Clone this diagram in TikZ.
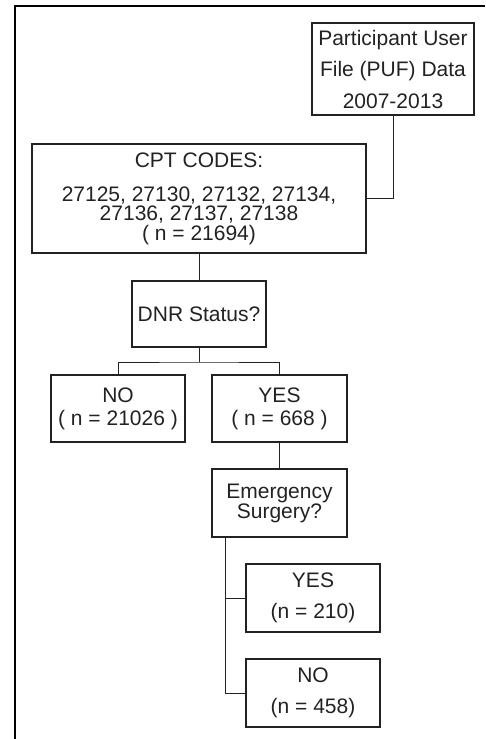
\documentclass[tikz,border=0pt]{standalone}
\usepackage{fontspec}
\setmainfont{Liberation Sans}
\definecolor{ink}{HTML}{222222}

\begin{document}
\begin{tikzpicture}[x=1pt, y=-1pt, line width=1pt, color=ink,
  box/.style={draw, line width=1.4pt, inner sep=0pt, align=center,
    font=\fontsize{21}{#1}\selectfont},
  box/.default=23]
  \useasboundingbox (0,0) rectangle (485,739);
  \draw[black, line width=2pt] (485,6) -| (15,739);

  \node[box=31.5, minimum width=162, minimum height=92] (puf) at (393,69)
    {Participant User\\File (PUF) Data\\2007-2013};
  \node[box=19.5, minimum width=334, minimum height=109] (cpt) at (199,198.5)
    {CPT CODES:\\[14.5pt]27125, 27130, 27132, 27134,\\27136, 27137, 27138\\( n = 21694)};
  \node[box, minimum width=134, minimum height=66] (dnr) at (199,314) {DNR Status?};
  \node[box, minimum width=134, minimum height=67] (no) at (118,408.5) {NO\\( n = 21026 )};
  \node[box, minimum width=135, minimum height=67] (yes) at (279.5,408.5) {YES\\( n = 668 )};
  \node[box=20, minimum width=135, minimum height=68] (emg) at (279.5,503) {Emergency\\Surgery?};
  \node[box=31, minimum width=134, minimum height=68] (yestwo) at (313,598) {YES\\(n = 210)};
  \node[box=31, minimum width=134, minimum height=68] (notwo) at (313,693) {NO\\(n = 458)};

  \coordinate (split) at (199,362);
  \coordinate (trunk) at ([xshift=14pt]emg.south west);

  \draw (puf.south) |- (cpt.east);
  \draw (cpt.south) -- (dnr.north);
  \draw (dnr.south) -- (split);
  \draw (no.north) |- (split) -| (yes.north);
  \draw (yes.south) -- (emg.north);
  \draw (trunk) |- (yestwo.west);
  \draw (trunk) |- (notwo.west);
\end{tikzpicture}
\end{document}
